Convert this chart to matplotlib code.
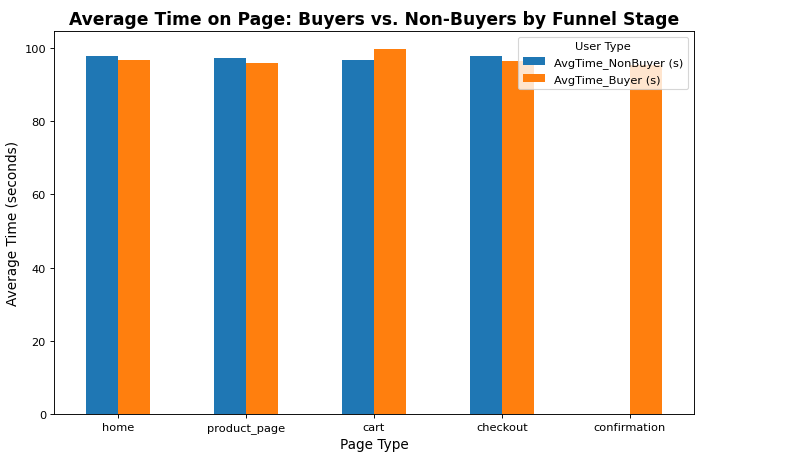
import numpy as np
import matplotlib.pyplot as plt

# Data
pages = ['home', 'product_page', 'cart', 'checkout', 'confirmation']
avg_nonbuyer = [97.9, 97.4, 96.8, 97.9, np.nan]
avg_buyer = [96.8, 96.0, 99.7, 96.4, 95.5]
series_labels = ['AvgTime_NonBuyer (s)', 'AvgTime_Buyer (s)']

DPI = 82
fig = plt.figure(figsize=(800 / DPI, 458 / DPI), dpi=DPI)
ax = fig.add_axes([0.0675, 0.094, 0.8, 0.836])

x = np.arange(len(pages))
width = 0.25
ax.bar(x - width / 2, avg_nonbuyer, width, color='#1f77b4', label=series_labels[0])
ax.bar(x + width / 2, avg_buyer, width, color='#ff7f0e', label=series_labels[1])

ax.set_xlim(-0.5, len(pages) - 0.5)
ax.set_xticks(x)
ax.set_xticklabels(pages, rotation=0)
ax.set_title('Average Time on Page: Buyers vs. Non-Buyers by Funnel Stage',
             fontsize=15, fontweight='bold')
ax.set_xlabel('Page Type', fontsize=12)
ax.set_ylabel('Average Time (seconds)', fontsize=12)
ax.legend(title='User Type', loc='upper right')

plt.savefig('out.png', dpi=DPI)
